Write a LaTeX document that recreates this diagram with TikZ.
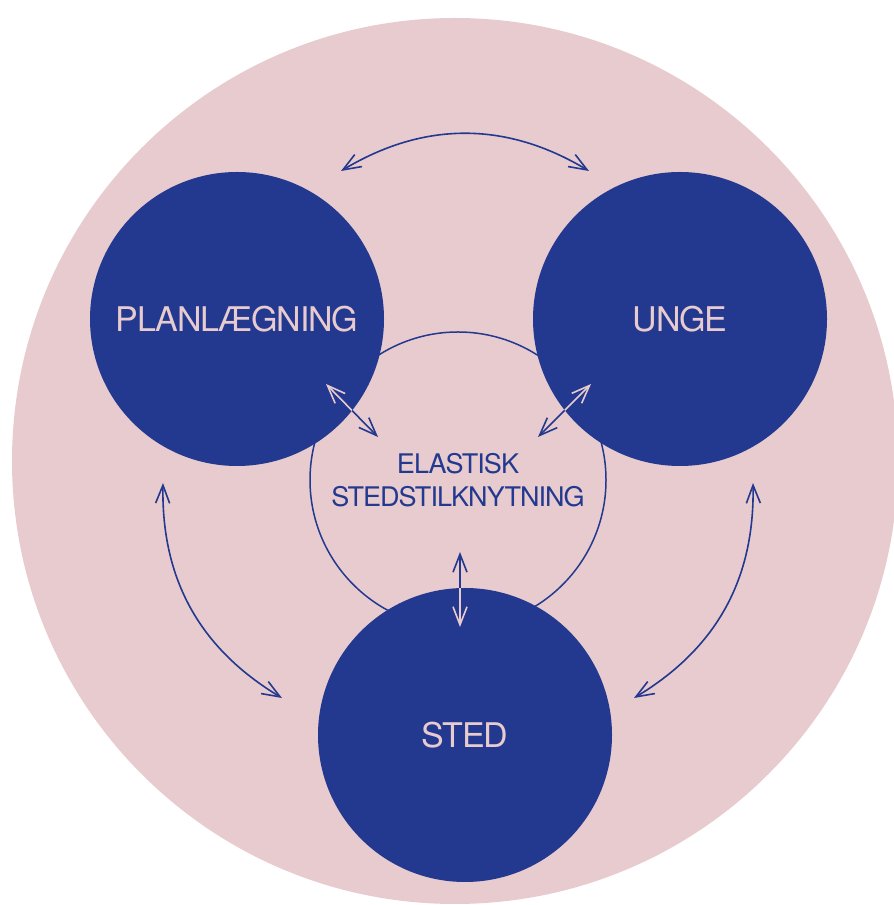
\documentclass[tikz,border=0pt]{standalone}
\usepackage{fontspec}
\setmainfont{TeX Gyre Heros}[LetterSpace=-3.5]
\usetikzlibrary{arrows.meta}
\definecolor{darkblue}{RGB}{34,57,143}
\definecolor{rosa}{RGB}{232,203,206}
\tikzset{
    theme/.style={
           circle,
           fill=darkblue,
           text=rosa,
           minimum size=294pt,
           inner sep=0pt,
           font=\fontsize{34}{40}\selectfont,
           },
    link/.style={
           <->,
           draw=darkblue,
           line width=1.6pt,
           },
}
\begin{document}
\begin{tikzpicture}[x=1pt,y=1pt,>={Straight Barb[length=18pt,width=14pt]}]
	\useasboundingbox (0,0) rectangle (894,905);
	\fill[rosa] (455,444) circle (443pt);

	\node[circle,draw=darkblue,line width=1.5pt,minimum size=296pt,inner sep=0pt,
	      align=center,text=darkblue,font=\fontsize{27}{33}\selectfont]
	      (elastic) at (458,425) {ELASTISK\\STEDSTILKNYTNING};
	\node[theme] (plan) at (237,586) {PLANLÆGNING};
	\node[theme] (unge) at (680,586) {UNGE};
	\node[theme] (sted) at (465,170) {STED};

	% free ends of the arrows
	\coordinate (plan top)   at (341,734);
	\coordinate (unge top)   at (589,734);
	\coordinate (plan low)   at (163,422);
	\coordinate (sted left)  at (282,207);
	\coordinate (unge low)   at (753,422);
	\coordinate (sted right) at (634,207);
	\coordinate (plan in)    at (326,521);
	\coordinate (elastic nw) at (378,468);
	\coordinate (unge in)    at (591,521);
	\coordinate (elastic ne) at (538,468);
	\coordinate (elastic s)  at (460,353);
	\coordinate (sted in)    at (460,278);

	\draw[link] (plan top) to [bend left=31] (unge top);
	\draw[link] (plan low) to [bend right=30] (sted left);
	\draw[link] (unge low) to [bend left=30] (sted right);

	\draw[link] (plan in) -- (elastic nw);
	\draw[link] (unge in) -- (elastic ne);
	\draw[link] (elastic s) -- (sted in);

	% parts inside the blue circles
	\begin{scope}
		\clip (plan.center) circle (147pt);
		\draw[link,draw=rosa] (plan in) -- (elastic nw);
	\end{scope}
	\begin{scope}
		\clip (unge.center) circle (147pt);
		\draw[link,draw=rosa] (unge in) -- (elastic ne);
	\end{scope}
	\begin{scope}
		\clip (sted.center) circle (147pt);
		\draw[link,draw=rosa] (elastic s) -- (sted in);
	\end{scope}
\end{tikzpicture}
\end{document}
